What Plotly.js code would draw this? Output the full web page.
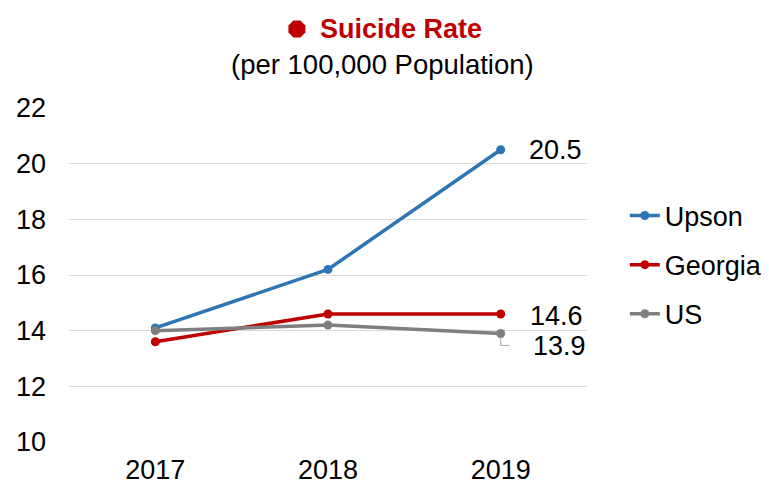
<!DOCTYPE html>
<html>
<head>
<meta charset="utf-8">
<script src="https://cdn.plot.ly/plotly-3.0.1.min.js"></script>
<style>html,body{margin:0;padding:0;background:#fff}#chart{width:769px;height:485px}</style>
</head>
<body>
<div id="chart"></div>
<script>
const years = ['2017', '2018', '2019'];
const upson = [14.1, 16.2, 20.5];
const georgia = [13.6, 14.6, 14.6];
const us = [14.0, 14.2, 13.9];
const seriesNames = ['Upson', 'Georgia', 'US'];
const yTicks = [10, 12, 14, 16, 18, 20, 22];

const FONT = 'Liberation Sans, Arial, sans-serif';
const FS = 27;
const colors = ['#2E75B6', '#C00000', '#7F7F7F'];
const vals = [upson, georgia, us];

const traces = vals.map((v, i) => ({
  type: 'scatter', mode: 'lines+markers', x: years, y: v, name: seriesNames[i],
  legendgroup: 'g' + i,
  line: {color: colors[i], width: 3.5},
  marker: {color: colors[i], size: 9}
}));

const last = years.length - 1;
const annotations = [
  {xref: 'paper', yref: 'paper', x: 0.641, y: 1.2365, xanchor: 'center', yanchor: 'middle',
   text: '<b>Suicide Rate</b>', showarrow: false, font: {family: FONT, size: FS, color: '#C00000'}},
  {xref: 'paper', yref: 'paper', x: 0.606, y: 1.1317, xanchor: 'center', yanchor: 'middle',
   text: '(per 100,000 Population)', showarrow: false, font: {family: FONT, size: 27.5, color: '#000'}},
  {x: last, y: upson[last], xanchor: 'left', yanchor: 'middle', xshift: 26,
   text: upson[last].toFixed(1), showarrow: false, font: {family: FONT, size: FS, color: '#000'}},
  {x: last, y: georgia[last], xanchor: 'left', yanchor: 'middle', xshift: 27, yshift: -2,
   text: georgia[last].toFixed(1), showarrow: false, font: {family: FONT, size: FS, color: '#000'}},
  {x: last, y: us[last], xanchor: 'left', yanchor: 'middle', xshift: 30, yshift: -13,
   text: us[last].toFixed(1), showarrow: false, font: {family: FONT, size: FS, color: '#000'}}
];

const shapes = [
  {type: 'path', xref: 'paper', yref: 'paper', xsizemode: 'pixel', ysizemode: 'pixel',
   xanchor: 0.440, yanchor: 1.2365,
   path: 'M-3.5,8.5 L3.5,8.5 L8.5,3.5 L8.5,-3.5 L3.5,-8.5 L-3.5,-8.5 L-8.5,-3.5 L-8.5,3.5 Z',
   fillcolor: '#C00000', line: {width: 0}},
  {type: 'path', xref: 'x', yref: 'y', xsizemode: 'pixel', ysizemode: 'pixel',
   xanchor: last, yanchor: us[last],
   path: 'M0,-4 L0,-12 L9,-12',
   line: {color: '#A6A6A6', width: 1}}
];

const layout = {
  width: 769, height: 485,
  margin: {l: 69, r: 182, t: 108, b: 43, autoexpand: false},
  paper_bgcolor: '#fff', plot_bgcolor: '#fff',
  font: {family: FONT, size: FS, color: '#000'},
  showlegend: true,
  legend: {x: 1.073, y: 0.53, xanchor: 'left', yanchor: 'middle', tracegroupgap: 11,
           font: {family: FONT, size: FS, color: '#000'}, bgcolor: 'rgba(0,0,0,0)'},
  xaxis: {type: 'category', range: [-0.5, 2.5], showgrid: false, zeroline: false, showline: false,
          ticks: '', ticklabelstandoff: 9, tickfont: {family: FONT, size: FS, color: '#000'}, fixedrange: true},
  yaxis: {range: [10, 22], tickvals: yTicks, ticktext: yTicks.map(String), showgrid: true, gridcolor: '#D9D9D9', gridwidth: 1,
          zeroline: false, showline: false, ticks: '', ticklabelstandoff: 22,
          tickfont: {family: FONT, size: FS, color: '#000'}, fixedrange: true},
  annotations: annotations,
  shapes: shapes
};

Plotly.newPlot('chart', traces, layout, {displayModeBar: false, staticPlot: true});
</script>
</body>
</html>
